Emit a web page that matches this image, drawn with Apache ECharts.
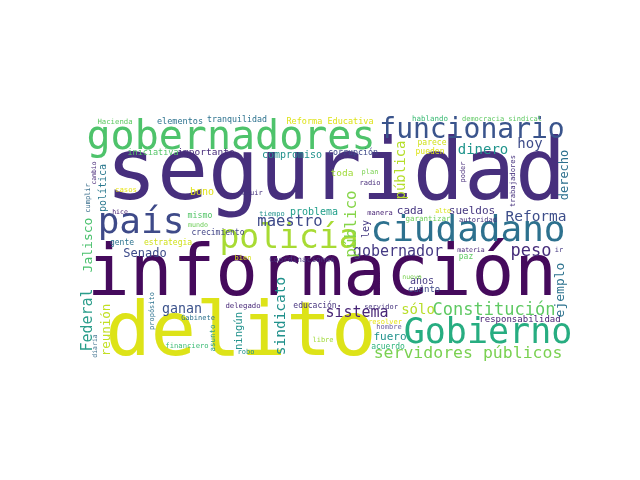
<!DOCTYPE html>
<html>
<head>
<meta charset="utf-8">
<script src="https://cdn.jsdelivr.net/npm/echarts@6/dist/echarts.min.js"></script>
<style>
  html, body { margin: 0; padding: 0; background: #ffffff; }
  #chart { width: 640px; height: 480px; }
</style>
</head>
<body>
<div id="chart"></div>
<script>
// palabras de la nube, con su posicion (centro) y tamaño
var words = ['seguridad', 'información', 'delito', 'gobernadores', 'funcionario', 'país', 'policía',
  'ciudadano', 'Gobierno', 'servidores públicos', 'Constitución', 'sólo', 'sistema', 'responsabilidad',
  'fuero', 'acuerdo', 'hombre', 'resolver', 'servidor', 'cuánto', 'años', 'nuevo', 'gobernador', 'peso',
  'Reforma', 'sueldos', 'cada', 'alto', 'manera', 'garantizar', 'autoridad', 'materia', 'paz', 'ley',
  'pública', 'público', 'toda', 'plan', 'radio', 'parece', 'pueden', 'dinero', 'hoy', 'poder',
  'trabajadores', 'derecho', 'ejemplo', 'ir', 'democracia sindical', 'hablando', 'Reforma Educativa',
  'tranquilidad', 'elementos', 'Hacienda', 'iniciativa', 'importante', 'compromiso', 'corrupción', 'bono',
  'seguir', 'casos', 'cambio', 'cumplir', 'política', 'hice', 'Jalisco', 'gente', 'estrategia', 'Senado',
  'mismo', 'mundo', 'crecimiento', 'maestro', 'tiempo', 'problema', 'bien', 'Coordinaciones', 'sindicato',
  'ningún', 'delegado', 'educación', 'libre', 'robo', 'ganan', 'Gabinete', 'propósito', 'financiero',
  'asunto', 'Federal', 'reunión', 'diaria'];
var wordX = [336, 322, 241, 231, 472, 141, 289, 468, 488, 468, 494, 418, 357, 520,
  390, 388, 389, 385, 381, 424, 422, 412, 398, 531, 536, 472, 410, 443, 380, 428, 478, 471, 466, 366,
  401, 352, 342, 370, 370, 432, 430, 483, 530, 463, 513, 565, 561, 559, 502, 430, 330,
  237, 180, 115, 153, 206, 292, 353, 202, 250, 126, 94, 88, 103, 120, 89, 122, 168, 145,
  200, 198, 218, 290, 272, 314, 243, 302, 281, 239, 243, 315, 323, 246, 182, 198, 152, 187,
  213, 88, 107, 95];
var wordY = [177, 277, 336, 139, 131, 224, 239, 232, 334, 354, 311, 310, 313, 320,
  337, 347, 327, 322, 307, 290, 281, 277, 252, 252, 217, 211, 211, 211, 213, 219, 220, 250, 257, 229,
  170, 224, 174, 172, 183, 143, 152, 150, 144, 172, 181, 175, 290, 250, 119, 119, 122,
  120, 122, 122, 153, 153, 155, 153, 192, 193, 190, 173, 198, 188, 212, 245, 243, 243, 254,
  216, 225, 233, 222, 214, 212, 258, 260, 316, 331, 306, 306, 340, 352, 310, 318, 311, 346,
  338, 320, 330, 346];
var wordSize = [85, 71, 75, 40, 28, 36, 33, 36, 35, 16.5, 17, 14, 15, 9,
  11, 8, 7, 7, 7, 9, 10, 6.5, 15, 17, 14.5, 11, 11, 6.5, 7, 7.5, 7, 6.5, 8, 10,
  14, 16, 9.5, 7, 7, 8, 8, 14, 14, 7, 7.2, 12, 13, 7, 7, 7.5, 8.5,
  8.3, 8.5, 7.3, 8.5, 9.5, 10, 8.3, 10, 7, 7.3, 6.4, 7, 10, 6.5, 13, 8, 8, 12,
  8.3, 6.7, 8, 15.5, 7, 10, 7, 7.8, 14.5, 10.5, 7.3, 8, 7, 7, 13.3, 7, 7, 7.2,
  7.5, 15, 12.5, 6.5];

// estilo: giro (90 = vertical) y color viridis de cada palabra
var wordRotate = [0, 0, 0, 0, 0, 0, 0, 0, 0, 0, 0, 0, 0, 0,
  0, 0, 0, 0, 0, 0, 0, 0, 0, 0, 0, 0, 0, 0, 0, 0, 0, 0, 0, 90,
  90, 90, 0, 0, 0, 0, 0, 0, 0, 90, 90, 90, 90, 0, 0, 0, 0,
  0, 0, 0, 0, 0, 0, 0, 0, 0, 0, 90, 90, 90, 0, 90, 0, 0, 0,
  0, 0, 0, 0, 0, 0, 0, 0, 90, 90, 0, 0, 0, 0, 0, 0, 90, 0,
  90, 90, 90, 90];
var wordColor = ['#472f7d', '#450a5c', '#dde318', '#4ec36b', '#3a548c', '#3e4a89', '#a8db34',
  '#2d718e', '#27ad81', '#7ad151', '#5ec962', '#b8de29', '#482576', '#482173',
  '#20928c', '#2fb47c', '#6b5c9f', '#e8e419', '#46337e', '#3e4989', '#443a83', '#7ad151', '#443983', '#472d7b',
  '#3d4e8a', '#453781', '#453581', '#d8e219', '#482475', '#6ece58', '#46337e', '#482878', '#5ec962', '#443983',
  '#b5de2b', '#86d549', '#a0da39', '#7ad151', '#472c7a', '#d0e11c', '#dde318', '#1f948c', '#3e4c8a', '#472c7a',
  '#46327e', '#2d708e', '#2c728e', '#443983', '#5ec962', '#3bbb75', '#dde318',
  '#2c728e', '#2c728e', '#5ec962', '#54c568', '#472c7a', '#21918c', '#3e4989', '#e0e318',
  '#46337e', '#e8e419', '#482878', '#3b6e8c', '#2a788e', '#482173', '#4ac16d', '#2c728e', '#d0e11c', '#3e4c8a',
  '#54c568', '#6ece58', '#414487', '#3e4a89', '#21918c', '#1f9e89', '#d8e219', '#46337e', '#21918c',
  '#21918c', '#482878', '#46337e', '#a0da39', '#21918c', '#3b528b', '#2c728e', '#2c728e', '#3bbb75',
  '#2a9b8a', '#2a9d8a', '#c2df23', '#3b6e8c'];

var chart = echarts.init(document.getElementById('chart'));

var cloudData = [];
for (var i = 0; i < words.length; i++) {
  cloudData.push({
    name: words[i],
    value: [wordX[i], wordY[i]],
    label: {
      fontSize: wordSize[i],
      rotate: wordRotate[i],
      color: wordColor[i]
    }
  });
}

var option = {
  backgroundColor: '#ffffff',
  animation: false,
  grid: { left: 0, right: 0, top: 0, bottom: 0 },
  xAxis: { type: 'value', min: 0, max: 640, show: false },
  yAxis: { type: 'value', min: 0, max: 480, inverse: true, show: false },
  series: [
    {
      type: 'scatter',
      silent: true,
      symbolSize: 0,
      itemStyle: { opacity: 1 },
      data: cloudData,
      label: {
        show: true,
        position: 'inside',
        align: 'center',
        verticalAlign: 'middle',
        opacity: 1,
        textBorderWidth: 0,
        textBorderColor: 'transparent',
        fontFamily: 'DejaVu Sans Mono',
        formatter: function (p) { return p.name; }
      },
      emphasis: { disabled: true }
    }
  ]
};

chart.setOption(option);
</script>
</body>
</html>
